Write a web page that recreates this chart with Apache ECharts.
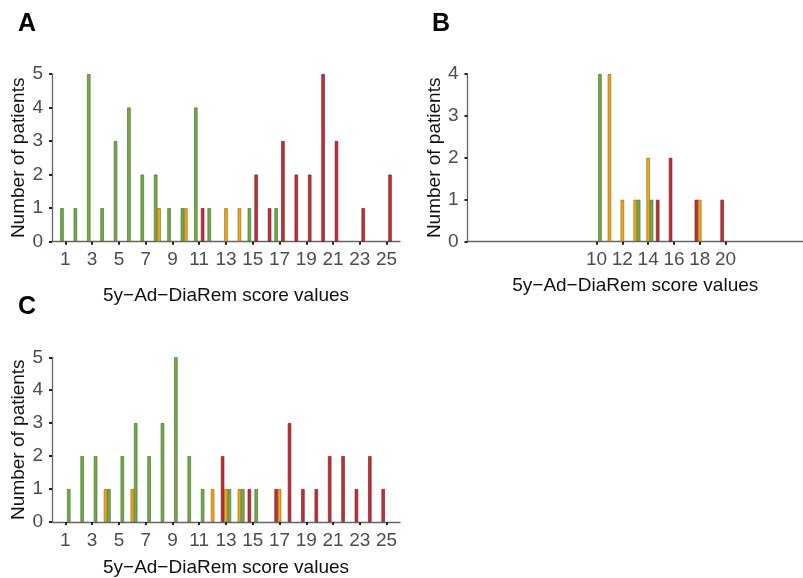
<!DOCTYPE html>
<html>
<head>
<meta charset="utf-8">
<script src="https://cdn.jsdelivr.net/npm/echarts@6/dist/echarts.min.js"></script>
<style>
html,body{margin:0;padding:0;background:#fff;}
#chart{width:803px;height:578px;}
</style>
</head>
<body>
<div id="chart"></div>
<script>
// Score values (x categories)
const scoreValues = ['0','1','2','3','4','5','6','7','8','9','10','11','12','13','14','15','16','17','18','19','20','21','22','23','24','25','26'];
// Tick labels
const tickLabelsA = ['1','3','5','7','9','11','13','15','17','19','21','23','25'];
const tickLabelsB = ['10','12','14','16','18','20'];
const tickLabelsC = ['1','3','5','7','9','11','13','15','17','19','21','23','25'];
const yTicksAC = [0,1,2,3,4,5];
const yTicksB = [0,1,2,3,4];

// Panel A: [score, number of patients]
const A_green  = [[1,1],[2,1],[3,5],[4,1],[5,3],[6,4],[7,2],[8,2],[9,1],[10,1],[11,4],[12,1],[15,1],[17,1]];
const A_orange = [[8,1],[10,1],[13,1],[14,1]];
const A_red    = [[11,1],[15,2],[16,1],[17,3],[18,2],[19,2],[20,5],[21,3],[23,1],[25,2]];
// Panel B
const B_red    = [[15,1],[16,2],[18,1],[20,1]];
const B_orange = [[11,4],[12,1],[13,1],[14,2],[18,1]];
const B_green  = [[10,4],[13,1],[14,1]];
// Panel C
const C_red    = [[13,2],[15,1],[17,1],[18,3],[19,1],[20,1],[21,2],[22,2],[23,1],[24,2],[25,1]];
const C_orange = [[4,1],[6,1],[12,1],[13,1],[14,1],[17,1]];
const C_green  = [[1,1],[2,2],[3,2],[4,1],[5,2],[6,3],[7,2],[8,3],[9,5],[10,2],[11,1],[13,1],[14,1],[15,1]];

const xTitle = '5y\u2212Ad\u2212DiaRem score values';
const yTitle = 'Number of patients';

const COL = {
  green:  {fill:'#74ab45', border:'#3f6326'},
  orange: {fill:'#f0a81a', border:'#86600c'},
  red:    {fill:'#c32f38', border:'#6a171c'}
};

function toData(pairs){
  const arr = scoreValues.map(() => '-');
  pairs.forEach(p => { arr[scoreValues.indexOf(String(p[0]))] = p[1]; });
  return arr;
}

const FONT = "'Liberation Sans', Arial, sans-serif";

function xAxis(gi, labels, nameGap){
  return {
    type:'category', gridIndex:gi, data:scoreValues, boundaryGap:false,
    axisLine:{show:true, lineStyle:{color:'#666', width:1.3}},
    axisTick:{show:true, length:3, lineStyle:{color:'#222', width:2},
      interval:(i,v) => labels.indexOf(v) >= 0},
    axisLabel:{show:true, color:'#4d4d4d', fontSize:19, fontFamily:FONT, margin:9,
      interval:(i,v) => labels.indexOf(v) >= 0},
    splitLine:{show:false},
    name:xTitle, nameLocation:'middle', nameGap:nameGap,
    nameTextStyle:{color:'#111', fontSize:19, fontFamily:FONT, verticalAlign:'top'}
  };
}
function yAxis(gi, ticks){
  return {
    type:'value', gridIndex:gi, min:ticks[0], max:ticks[ticks.length-1], interval:1,
    axisLine:{show:true, lineStyle:{color:'#666', width:1.3}},
    axisTick:{show:true, length:3, lineStyle:{color:'#222', width:2}},
    axisLabel:{color:'#4d4d4d', fontSize:19, fontFamily:FONT, margin:9},
    splitLine:{show:false},
    name:yTitle, nameLocation:'middle', nameGap:21,
    nameTextStyle:{color:'#111', fontSize:19, fontFamily:FONT}
  };
}
function bar(gi, pairs, c){
  return {
    type:'bar', xAxisIndex:gi, yAxisIndex:gi, data:toData(pairs),
    barWidth:3.4, barGap:'0%',
    itemStyle:{color:COL[c].fill, borderColor:COL[c].border, borderWidth:0.6},
    silent:true, animation:false
  };
}

const chart = echarts.init(document.getElementById('chart'), null, {renderer:'canvas'});
chart.setOption({
  animation:false,
  backgroundColor:'#fff',
  title:[
    {text:'A', left:13, top:7, textStyle:{fontSize:25, fontWeight:'bold', color:'#000', fontFamily:FONT}},
    {text:'B', left:427, top:7, textStyle:{fontSize:25, fontWeight:'bold', color:'#000', fontFamily:FONT}},
    {text:'C', left:13, top:290, textStyle:{fontSize:25, fontWeight:'bold', color:'#000', fontFamily:FONT}}
  ],
  grid:[
    {left:52, top:74, width:348, height:167.7},
    {left:467.5, top:74, width:348, height:167.7},
    {left:52, top:357.3, width:348, height:166.7}
  ],
  xAxis:[xAxis(0, tickLabelsA, 45), xAxis(1, tickLabelsB, 35), xAxis(2, tickLabelsC, 36)],
  yAxis:[yAxis(0, yTicksAC), yAxis(1, yTicksB), yAxis(2, yTicksAC)],
  series:[
    bar(0, A_green, 'green'), bar(0, A_orange, 'orange'), bar(0, A_red, 'red'),
    bar(1, B_red, 'red'), bar(1, B_orange, 'orange'), bar(1, B_green, 'green'),
    bar(2, C_red, 'red'), bar(2, C_orange, 'orange'), bar(2, C_green, 'green')
  ]
});
</script>
</body>
</html>
